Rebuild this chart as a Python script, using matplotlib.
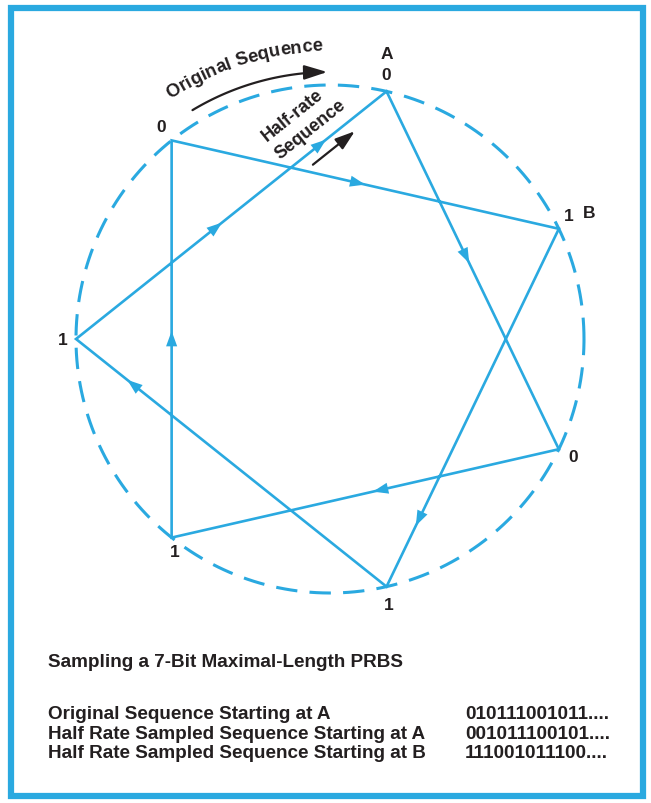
import numpy as np
import matplotlib
matplotlib.use('Agg')
import matplotlib.pyplot as plt
from matplotlib.patches import Rectangle, FancyArrowPatch
from matplotlib.path import Path
from matplotlib.font_manager import FontProperties, findfont, get_font

# bit at each of the 7 sample points, going clockwise from A
bits = [0, 1, 0, 1, 1, 1, 0]
point_names = ['A', 'B', '', '', '', '', '']
# half-rate sampling takes every 2nd point
step = 2
# arrowheads on the star: (edge of the half-rate path, fraction along it)
arrow_marks = [(0, 0.48), (1, 0.48), (2, 0.52), (3, 0.50),
               (4, 0.83), (5, 0.835), (6, 0.47), (6, 0.805)]

title = 'Sampling a 7-Bit Maximal-Length PRBS'
row_labels = ['Original Sequence Starting at A',
              'Half Rate Sampled Sequence Starting at A',
              'Half Rate Sampled Sequence Starting at B']
row_values = ['010111001011....', '001011100101....', '111001011100....']

BLUE = '#2aa9e0'
INK = '#231f20'
FONT = 'Liberation Sans'

W, H = 651, 804
R_PX = 254.0          # circle radius in pixels
CX, CY = 330, 340     # circle centre in pixels (from top-left)

fig = plt.figure(figsize=(W / 100, H / 100), dpi=100)
ax = fig.add_axes([0, 0, 1, 1])
ax.set_xlim(-CX / R_PX, (W - CX) / R_PX)
ax.set_ylim(-(H - CY) / R_PX, CY / R_PX)
ax.axis('off')

# blue frame
fig.patches.append(Rectangle((11 / W, 1 - 797 / H), 632 / W, 788 / H,
                             transform=fig.transFigure, fill=False,
                             edgecolor=BLUE, lw=4.5))

# dashed circle
th = np.linspace(0, 2 * np.pi, 500)
ax.plot(np.cos(th), np.sin(th), color=BLUE, lw=2.2, ls=(0, (7, 4)))

# 7 points, point index 5 sits at the far left
n = len(bits)
ang = np.deg2rad(180 + (5 - np.arange(n)) * 360 / n)
px, py = np.cos(ang), np.sin(ang)

# heptagram path of the half-rate sequence
order = [(step * k) % n for k in range(n + 1)]
ax.plot(px[order], py[order], color=BLUE, lw=1.9, solid_joinstyle='miter')

for edge, f in arrow_marks:
    a, b = order[edge], order[edge + 1]
    p0 = np.array([px[a], py[a]])
    p1 = np.array([px[b], py[b]])
    d = (p1 - p0) / np.hypot(*(p1 - p0))
    tip = p0 + f * (p1 - p0)
    ax.annotate('', xy=tip, xytext=tip - 0.04 * d,
                arrowprops=dict(arrowstyle='-|>,head_length=0.55,head_width=0.2',
                                color=BLUE, lw=0, mutation_scale=20,
                                shrinkA=0, shrinkB=0))

# bit labels (offsets in pixels: right, up)
bit_offsets = [(0, 17), (10, 13), (14, -7), (2, -18), (3, -14), (-13, -1), (-10, 14)]
name_offsets = [(0, 38), (30, 16)]
for i in range(n):
    dx, dy = bit_offsets[i]
    ax.annotate(str(bits[i]), (px[i], py[i]), xytext=(dx * 0.72, dy * 0.72),
                textcoords='offset points', ha='center', va='center',
                fontsize=12.5, fontweight='bold', family=FONT, color=INK)
    if point_names[i]:
        dx, dy = name_offsets[i]
        ax.annotate(point_names[i], (px[i], py[i]), xytext=(dx * 0.72, dy * 0.72),
                    textcoords='offset points', ha='center', va='center',
                    fontsize=12.5, fontweight='bold', family=FONT, color=INK)


def arc_text(s, r, mid_deg, fs):
    fp = FontProperties(family=FONT, weight='bold', size=fs)
    font = get_font(findfont(fp))
    font.set_size(fs, 72)
    widths = []
    for ch in s:
        g = font.load_char(ord(ch))
        widths.append(g.linearHoriAdvance / 65536 * 100 / 72 / R_PX)
    total = sum(widths)
    start = np.deg2rad(mid_deg) + total / r / 2
    cum = 0.0
    for ch, w in zip(s, widths):
        a = start - (cum + w / 2) / r
        ax.text(r * np.cos(a), r * np.sin(a), ch, rotation=np.rad2deg(a) - 90,
                rotation_mode='anchor', ha='center', va='baseline',
                fontproperties=fp, color=INK)
        cum += w


# "Original Sequence" curved arrow and label
arc_text('Original Sequence', 289 / R_PX, 107.5, 13.2)
ta = np.deg2rad(np.linspace(121, 90.6, 40))
rr = 267 / R_PX
arc = FancyArrowPatch(path=Path(np.column_stack([rr * np.cos(ta), rr * np.sin(ta)])),
                      arrowstyle='-|>,head_length=0.7,head_width=0.22',
                      mutation_scale=20, color=INK, lw=1.6)
ax.add_patch(arc)

# "Half-rate Sequence" label and arrow, placed along the left -> A edge
L = np.array([px[5], py[5]])
A = np.array([px[0], py[0]])
d = (A - L) / np.hypot(*(A - L))
nrm = np.array([d[1], -d[0]])
rot = np.rad2deg(np.arctan2(d[1], d[0]))
seg = np.hypot(*(A - L))
for txt, t, off in [('Half-rate', 0.778, -0.16), ('Sequence', 0.793, -0.072)]:
    p = L + t * seg * d + off * nrm
    ax.text(p[0], p[1], txt, rotation=rot, rotation_mode='anchor',
            ha='center', va='center', fontsize=13, fontweight='bold',
            family=FONT, color=INK)
p_start = L + 0.74 * seg * d + 0.045 * nrm
p_end = L + 0.875 * seg * d + 0.045 * nrm
ax.annotate('', xy=p_end, xytext=p_start,
            arrowprops=dict(arrowstyle='-|>,head_length=0.6,head_width=0.2',
                            color=INK, lw=1.6, mutation_scale=20,
                            shrinkA=0, shrinkB=0))

# caption block
fig.text(48 / W, 1 - 663 / H, title, ha='left', va='center', fontsize=13.6,
         fontweight='bold', family=FONT, color=INK)
for i, (lab, val) in enumerate(zip(row_labels, row_values)):
    y = 1 - (715 + 19.5 * i) / H
    fig.text(48 / W, y, lab, ha='left', va='center', fontsize=13.6,
             fontweight='bold', family=FONT, color=INK)
    fig.text(465 / W, y, val, ha='left', va='center', fontsize=13.6,
             fontweight='bold', family=FONT, color=INK)

fig.savefig('out.png', dpi=100)
